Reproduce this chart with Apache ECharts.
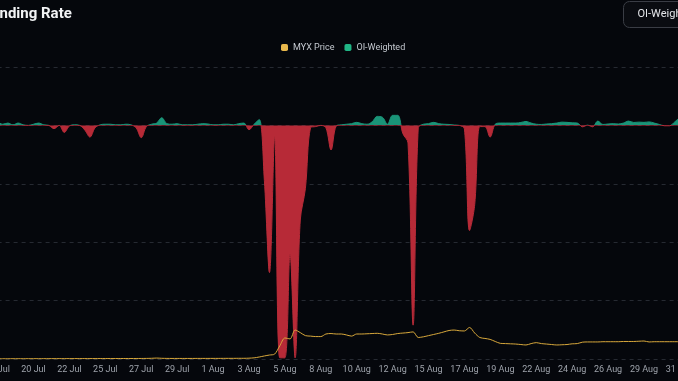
<!DOCTYPE html>
<html><head><meta charset="utf-8">
<script src="https://cdn.jsdelivr.net/npm/echarts@6/dist/echarts.min.js"></script>
<style>
html,body{margin:0;padding:0;background:#05070c;overflow:hidden;width:678px;height:381px;position:relative}
#wrap{position:absolute;left:-60px;top:0;width:860px;height:381px}
</style>
</head><body><div id="wrap"></div>
<script>
// 8-hourly points starting 18 Jul 2025 00:00 UTC
const startUTC = Date.UTC(2025, 6, 18, 0, 0);
const stepHours = 8;
const pointCount = 141;
const categories = [];
for (let i = 0; i < pointCount; i++) {
  const d = new Date(startUTC + i * stepHours * 3600000);
  categories.push(d.toISOString().slice(0, 16).replace('T', ' '));
}
const monthNames = ['Jan','Feb','Mar','Apr','May','Jun','Jul','Aug','Sep','Oct','Nov','Dec'];

const priceValues = [
 0.010,0.010,0.010,0.012,0.012,0.012,0.013,0.013,0.014,0.014,
 0.015,0.015,0.016,0.016,0.017,0.017,0.018,0.018,0.018,0.019,
 0.019,0.020,0.020,0.020,0.021,0.021,0.022,0.022,0.023,0.025,
 0.030,0.040,0.030,0.025,0.024,0.024,0.024,0.024,0.024,0.025,
 0.025,0.025,0.026,0.026,0.027,0.028,0.028,0.030,0.030,0.035,
 0.050,0.085,0.130,0.170,0.210,0.560,0.900,0.860,1.240,1.130,
 1.000,0.980,0.960,0.960,1.070,1.090,1.070,1.070,1.030,0.980,
 1.070,1.070,1.080,1.090,1.100,1.070,1.030,1.050,1.090,1.110,
 1.130,1.160,0.920,0.950,1.000,1.050,1.100,1.160,1.220,1.240,
 1.210,1.200,1.350,1.110,0.920,0.880,0.840,0.750,0.670,0.660,
 0.650,0.640,0.620,0.600,0.660,0.700,0.660,0.640,0.620,0.600,
 0.610,0.620,0.650,0.660,0.720,0.730,0.730,0.730,0.740,0.740,
 0.740,0.740,0.750,0.750,0.750,0.760,0.770,0.730,0.740,0.740,
 0.740,0.740,0.740,0.740,0.740,0.750,0.750,0.740,0.740,0.740,
 0.740
];

const fundingValues = [
 0.030,0.010,0.020,0.005,0.020,0.005,0.000,0.010,0.020,0.005,
 0.000,-0.028,0.000,-0.060,-0.005,0.005,0.000,-0.040,-0.100,-0.020,
 0.005,0.010,0.010,0.005,0.005,0.010,0.005,-0.020,-0.105,-0.010,
 0.010,0.020,0.066,0.015,0.010,0.015,0.005,0.005,0.005,0.010,
 0.015,0.012,0.005,0.005,0.010,0.010,0.005,0.015,0.020,-0.037,
 0.010,0.050,-0.470,-1.260,-0.090,-1.990,-1.990,-1.100,-1.990,-0.810,
 -0.540,-0.020,-0.010,0.000,-0.020,-0.210,-0.005,0.005,0.010,0.015,
 0.026,0.015,0.010,0.030,0.077,0.070,0.010,0.086,0.086,-0.070,
 -0.150,-1.710,-0.020,0.010,0.015,0.026,0.015,0.010,0.008,0.003,
 0.000,-0.030,-0.900,-0.680,-0.010,-0.010,-0.100,0.010,0.020,0.020,
 0.020,0.020,0.025,0.034,0.020,0.010,0.008,0.012,0.015,0.020,
 0.028,0.026,0.022,0.020,-0.012,0.002,-0.012,0.037,0.008,0.012,
 0.015,0.012,0.020,0.037,0.025,0.028,0.026,0.030,0.020,0.008,
 -0.003,-0.003,0.030,0.060,0.050,0.030,0.020,0.020,0.020,0.020,
 0.020
];

const GOLD = '#d8a83c', GOLD_ICON = '#e9b84c';
const GREEN = '#1a9478', GREEN_ICON = '#20b585';
const RED = '#b72a37';
const FONT = 'Roboto';

const chart = echarts.init(document.getElementById('wrap'), null, {renderer: 'canvas'});
chart.setOption({
  backgroundColor: '#05070c',
  animation: false,
  textStyle: {fontFamily: FONT},
  title: {
    text: 'Funding Rate', left: 43, top: 7, padding: 0,
    textStyle: {color: '#f2f3f5', fontSize: 15, fontWeight: 'bold', fontFamily: FONT}
  },
  graphic: [{
    type: 'group', left: 683, top: 1,
    children: [
      {type: 'rect', shape: {x: 0, y: 0, width: 120, height: 26, r: 6},
       style: {fill: '#0a0c11', stroke: '#3a3d45', lineWidth: 1}},
      {type: 'text', x: 14, y: 13,
       style: {text: 'OI-Weighted', fill: '#e4e6ea', font: '11px Roboto', verticalAlign: 'middle'}}
    ]
  }],
  legend: {
    left: 336, top: 38, icon: 'roundRect', itemWidth: 7, itemHeight: 7, itemGap: 10,
    textStyle: {color: '#c5c9d0', fontSize: 9, fontFamily: FONT},
    data: [
      {name: 'MYX Price', itemStyle: {color: GOLD_ICON}},
      {name: 'OI-Weighted', itemStyle: {color: GREEN_ICON}}
    ]
  },
  grid: {left: 57.6, right: 84.2, top: 67, bottom: 22},
  xAxis: {
    type: 'category', data: categories, boundaryGap: false,
    axisLine: {show: false}, axisTick: {show: false},
    axisLabel: {
      interval: 6, color: '#9ea3ab', fontSize: 9, margin: 6, fontFamily: FONT,
      formatter: function (v) {
        const m = parseInt(v.slice(5, 7), 10) - 1;
        const d = parseInt(v.slice(8, 10), 10);
        return d + ' ' + monthNames[m];
      }
    },
    splitLine: {show: false}
  },
  yAxis: [
    {type: 'value', min: -2, max: 0.5, interval: 0.5, position: 'left',
     axisLabel: {show: false}, axisLine: {show: false}, axisTick: {show: false},
     splitLine: {show: true, lineStyle: {color: '#262a32', type: [4, 4], width: 1}}},
    {type: 'value', min: 0, max: 12.5, interval: 2.5, position: 'right',
     axisLabel: {show: false}, axisLine: {show: false}, axisTick: {show: false},
     splitLine: {show: false}}
  ],
  visualMap: {
    type: 'piecewise', show: false, seriesIndex: 0, dimension: 1,
    pieces: [{gt: 0, lte: 10, color: GREEN}, {gte: -10, lte: 0, color: RED}],
    outOfRange: {color: GREEN}
  },
  series: [
    {name: 'OI-Weighted', type: 'line', yAxisIndex: 0, data: fundingValues,
     smooth: 0.35, showSymbol: false, symbol: 'none', z: 2,
     itemStyle: {color: GREEN},
     lineStyle: {width: 1},
     areaStyle: {opacity: 1}},
    {name: 'MYX Price', type: 'line', yAxisIndex: 1, data: priceValues,
     smooth: 0.3, showSymbol: false, symbol: 'none', z: 3,
     itemStyle: {color: GOLD},
     lineStyle: {width: 1, color: GOLD}}
  ]
});
</script>
</body></html>
